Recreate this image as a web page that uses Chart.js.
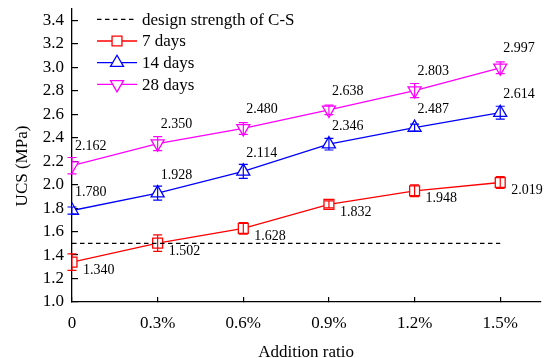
<!DOCTYPE html>
<html>
<head>
<meta charset="utf-8">
<script src="https://cdn.jsdelivr.net/npm/chart.js@4/dist/chart.umd.min.js"></script>
<style>
  html, body { margin: 0; padding: 0; background: #fff; }
  #wrap { width: 549px; height: 358px; }
</style>
</head>
<body>
<div id="wrap"><canvas id="ucs"></canvas></div>
<script>
/* UCS vs addition ratio — 7 / 14 / 28 day curing */

const ratios = [0, 0.3, 0.6, 0.9, 1.2, 1.5];
const yTicks = [1.0, 1.2, 1.4, 1.6, 1.8, 2.0, 2.2, 2.4, 2.6, 2.8, 3.0, 3.2, 3.4];

const ucs7  = [1.340, 1.502, 1.628, 1.832, 1.948, 2.019];
const ucs14 = [1.780, 1.928, 2.114, 2.346, 2.487, 2.614];
const ucs28 = [2.162, 2.350, 2.480, 2.638, 2.803, 2.997];

// standard deviations (error bar half-heights)
const err7  = [0.07, 0.07, 0.05, 0.03, 0.05, 0.05];
const err14 = [0.03, 0.06, 0.06, 0.05, 0.03, 0.055];
const err28 = [0.07, 0.06, 0.05, 0.04, 0.06, 0.05];

const designStrength = 1.5;
const designLabel = 'design strength of C-S';

const SERIF = '"Liberation Serif", "Times New Roman", serif';
const RED = '#ff0000', BLUE = '#0000ff', MAGENTA = '#ff00ff';

const pts = vals => vals.map((v, i) => ({ x: ratios[i], y: v }));

function curve(label, vals, errs, color, style, rotation, radius, lblDx, lblDy) {
  return {
    label, data: pts(vals), errs,
    borderColor: color, borderWidth: 1.3,
    pointStyle: style, pointRotation: rotation, pointRadius: radius,
    pointBorderColor: color, pointBackgroundColor: '#fff', pointBorderWidth: 1.3,
    pointHoverRadius: radius,
    lblDx, lblDy
  };
}

const datasets = [
  {
    label: designLabel,
    data: [{ x: ratios[0], y: designStrength }, { x: ratios[ratios.length - 1], y: designStrength }],
    borderColor: '#000', borderWidth: 1.2, borderDash: [4.5, 3.5],
    pointRadius: 0, pointHoverRadius: 0
  },
  curve('7 days',  ucs7,  err7,  RED,     'rect',     0,   7,   11,  8),
  curve('14 days', ucs14, err14, BLUE,    'triangle', 0,   7.5, 3, -18),
  curve('28 days', ucs28, err28, MAGENTA, 'triangle', 180, 7.5, 3, -19)
];

// error bars, value labels, inline legend and axis titles
const decorations = {
  id: 'decorations',
  afterDatasetsDraw(chart) {
    const { ctx, chartArea: area, scales: { x, y } } = chart;
    ctx.save();

    // error bars over the hollow markers
    chart.data.datasets.forEach(ds => {
      if (!ds.errs) return;
      ctx.strokeStyle = ds.borderColor;
      ctx.lineWidth = 1.2;
      ds.data.forEach((p, i) => {
        const px = x.getPixelForValue(p.x);
        const top = y.getPixelForValue(p.y + ds.errs[i]);
        const bot = y.getPixelForValue(p.y - ds.errs[i]);
        ctx.beginPath();
        ctx.moveTo(px, top); ctx.lineTo(px, bot);
        ctx.moveTo(px - 4.5, top); ctx.lineTo(px + 4.5, top);
        ctx.moveTo(px - 4.5, bot); ctx.lineTo(px + 4.5, bot);
        ctx.stroke();
      });
    });

    // value labels
    ctx.fillStyle = '#000';
    ctx.font = '14px ' + SERIF;
    ctx.textAlign = 'left';
    ctx.textBaseline = 'middle';
    chart.data.datasets.forEach(ds => {
      if (!ds.errs) return;
      ds.data.forEach(p => {
        ctx.fillText(p.y.toFixed(3), x.getPixelForValue(p.x) + ds.lblDx, y.getPixelForValue(p.y) + ds.lblDy);
      });
    });

    // legend, top-left inside the plot
    ctx.font = '17px ' + SERIF;
    chart.data.datasets.forEach((ds, i) => {
      const ly = area.top + 10.5 + i * 21.7;
      const x0 = area.left + 25, x1 = area.left + 65, mx = area.left + 45;
      ctx.strokeStyle = ds.borderColor;
      ctx.lineWidth = ds.borderWidth;
      ctx.setLineDash(ds.borderDash || []);
      ctx.beginPath(); ctx.moveTo(x0, ly); ctx.lineTo(x1, ly); ctx.stroke();
      ctx.setLineDash([]);
      if (ds.pointRadius) {
        ctx.fillStyle = '#fff';
        ctx.lineWidth = ds.pointBorderWidth;
        Chart.helpers.drawPoint(ctx, {
          pointStyle: ds.pointStyle, rotation: ds.pointRotation,
          radius: ds.pointRadius, borderWidth: ds.pointBorderWidth
        }, mx, ly);
      }
      ctx.fillStyle = '#000';
      ctx.fillText(ds.label, area.left + 70, ly + 1);
    });

    // axis titles
    ctx.textAlign = 'center';
    ctx.fillText('Addition ratio', (area.left + area.right) / 2, 353);
    ctx.translate(22.7, 166);
    ctx.rotate(-Math.PI / 2);
    ctx.fillText('UCS (MPa)', 0, 0);
    ctx.restore();
  }
};

// keep tick-label overhang from pushing the plot area in
function noOverhang(s) {
  s.paddingTop = 0; s.paddingBottom = 0;
  s.paddingLeft = 0; s.paddingRight = 0;
}

new Chart(document.getElementById('ucs'), {
  type: 'line',
  data: { datasets },
  plugins: [decorations],
  options: {
    responsive: true,
    maintainAspectRatio: false,
    animation: false,
    layout: { padding: { top: 8, right: 0, left: 0, bottom: 0 } },
    plugins: { legend: { display: false }, tooltip: { enabled: false } },
    elements: { line: { tension: 0 } },
    scales: {
      x: {
        type: 'linear', min: 0, max: 1.64,
        afterBuildTicks: s => { s.ticks = ratios.map(v => ({ value: v })); },
        afterFit: s => { s.height = 56; noOverhang(s); },
        border: { color: '#000', width: 1.3 },
        grid: { drawOnChartArea: false, drawTicks: true, tickLength: -5, color: '#000', lineWidth: 1.2 },
        ticks: {
          color: '#000', padding: 16, maxRotation: 0, autoSkip: false,
          font: { family: SERIF, size: 17 },
          callback: v => v === 0 ? '0' : v.toFixed(1) + '%'
        }
      },
      y: {
        min: 1.0, max: 3.5,
        afterBuildTicks: s => { s.ticks = yTicks.map(v => ({ value: v })); },
        afterFit: s => { s.width = 72; noOverhang(s); },
        border: { color: '#000', width: 1.3 },
        grid: { drawOnChartArea: false, drawTicks: true, tickLength: -6, color: '#000', lineWidth: 1.2 },
        ticks: {
          color: '#000', padding: 14, autoSkip: false,
          font: { family: SERIF, size: 17 },
          callback: v => v.toFixed(1)
        }
      }
    }
  }
});
</script>
</body>
</html>
